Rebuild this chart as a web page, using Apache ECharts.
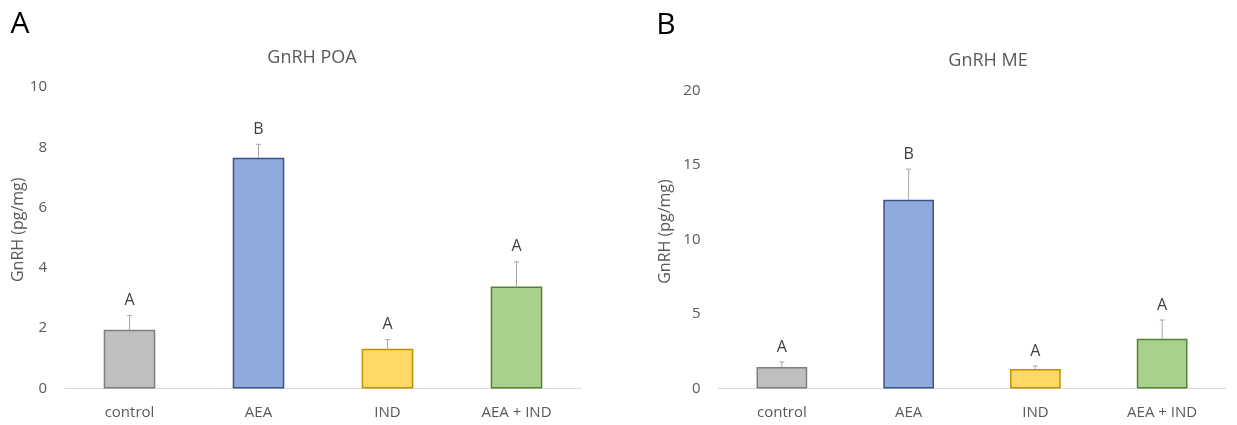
<!DOCTYPE html>
<html>
<head>
<meta charset="utf-8">
<script src="https://cdn.jsdelivr.net/npm/echarts@6/dist/echarts.min.js"></script>
<style>
html,body{margin:0;padding:0;background:#fff;}
#chart{width:1237px;height:425px;}
</style>
</head>
<body>
<div id="chart"></div>
<script>
// ---- data ----
const categories = ['control', 'AEA', 'IND', 'AEA + IND'];
const poaMean = [1.95, 7.65, 1.32, 3.38];
const poaErr = [0.47, 0.45, 0.30, 0.82];
const poaLetters = ['A', 'B', 'A', 'A'];
const meMean = [1.44, 12.66, 1.31, 3.34];
const meErr = [0.34, 2.06, 0.20, 1.26];
const meLetters = ['A', 'B', 'A', 'A'];
const poaTicks = [0, 2, 4, 6, 8, 10];
const meTicks = [0, 5, 10, 15, 20];
const panelTitles = ['GnRH POA', 'GnRH ME'];
const panelLetters = ['A', 'B'];
const yName = 'GnRH (pg/mg)';

// ---- styles ----
const fills = ['#bfbfbf', '#8faadc', '#ffd966', '#a9d18e'];
const borders = ['#7f7f7f', '#3b5488', '#bf9000', '#548235'];
const FONT = '"Open Sans", "Liberation Sans", sans-serif';
const GRAY = '#595959';

const chart = echarts.init(document.getElementById('chart'));

function barData(vals) {
  return vals.map((v, i) => ({ value: v, itemStyle: { color: fills[i], borderColor: borders[i], borderWidth: 1.5 } }));
}
function errData(means, errs, letters) {
  return means.map((m, i) => [i, m, errs[i], letters[i]]);
}
function renderErr(params, api) {
  const idx = api.value(0), m = api.value(1), e = api.value(2);
  const p0 = api.coord([idx, m]);
  const p1 = api.coord([idx, m + e]);
  const lt = api.value(3);
  const capHalf = 2.5;
  return {
    type: 'group',
    children: [
      { type: 'line', shape: { x1: p0[0], y1: p0[1], x2: p1[0], y2: p1[1] }, style: { stroke: '#a6a6a6', lineWidth: 1 } },
      { type: 'line', shape: { x1: p1[0] - capHalf, y1: p1[1], x2: p1[0] + capHalf, y2: p1[1] }, style: { stroke: '#a6a6a6', lineWidth: 1 } },
      { type: 'text', style: { text: String(lt), x: p1[0], y: p1[1] - 15, align: 'center', verticalAlign: 'middle', fill: '#404040', fontSize: 16, fontFamily: FONT } }
    ]
  };
}

function yAxisCfg(gridIndex, max, interval, gap) {
  return {
    type: 'value', gridIndex: gridIndex, min: 0, max: max, interval: interval,
    name: yName, nameLocation: 'middle', nameGap: gap, nameRotate: 90,
    nameTextStyle: { color: GRAY, fontSize: 16, fontFamily: FONT, padding: [0, 0, 0, 16] },
    axisLine: { show: false }, axisTick: { show: false }, splitLine: { show: false },
    axisLabel: { color: GRAY, fontSize: 15, fontFamily: FONT, margin: 18 }
  };
}
function xAxisCfg(gridIndex) {
  return {
    type: 'category', gridIndex: gridIndex, data: categories,
    axisLine: { show: true, lineStyle: { color: '#d9d9d9', width: 1 } },
    axisTick: { show: false },
    axisLabel: { color: GRAY, fontSize: 15, fontFamily: FONT, margin: 17 }
  };
}

const option = {
  animation: false,
  backgroundColor: '#ffffff',
  graphic: [
    { type: 'text', style: { text: panelLetters[0], x: 20, y: 24, align: 'center', verticalAlign: 'middle', fill: '#000', fontSize: 30, fontFamily: FONT } },
    { type: 'text', style: { text: panelLetters[1], x: 666, y: 25, align: 'center', verticalAlign: 'middle', fill: '#000', fontSize: 30, fontFamily: FONT } },
    { type: 'text', style: { text: panelTitles[0], x: 312, y: 58, align: 'center', verticalAlign: 'middle', fill: GRAY, fontSize: 18, fontFamily: FONT } },
    { type: 'text', style: { text: panelTitles[1], x: 988, y: 61, align: 'center', verticalAlign: 'middle', fill: GRAY, fontSize: 18, fontFamily: FONT } }
  ],
  grid: [
    { left: 65, width: 516, top: 87, bottom: 36.5 },
    { left: 718.5, width: 507, top: 90.5, bottom: 36.5 }
  ],
  xAxis: [xAxisCfg(0), xAxisCfg(1)],
  yAxis: [yAxisCfg(0, poaTicks[poaTicks.length - 1], poaTicks[1] - poaTicks[0], 37),
          yAxisCfg(1, meTicks[meTicks.length - 1], meTicks[1] - meTicks[0], 45)],
  series: [
    { type: 'bar', xAxisIndex: 0, yAxisIndex: 0, barWidth: '40%', data: barData(poaMean) },
    { type: 'bar', xAxisIndex: 1, yAxisIndex: 1, barWidth: '40%', data: barData(meMean) },
    { type: 'custom', xAxisIndex: 0, yAxisIndex: 0, renderItem: renderErr, data: errData(poaMean, poaErr, poaLetters), z: 3 },
    { type: 'custom', xAxisIndex: 1, yAxisIndex: 1, renderItem: renderErr, data: errData(meMean, meErr, meLetters), z: 3 }
  ]
};
chart.setOption(option);
</script>
</body>
</html>
